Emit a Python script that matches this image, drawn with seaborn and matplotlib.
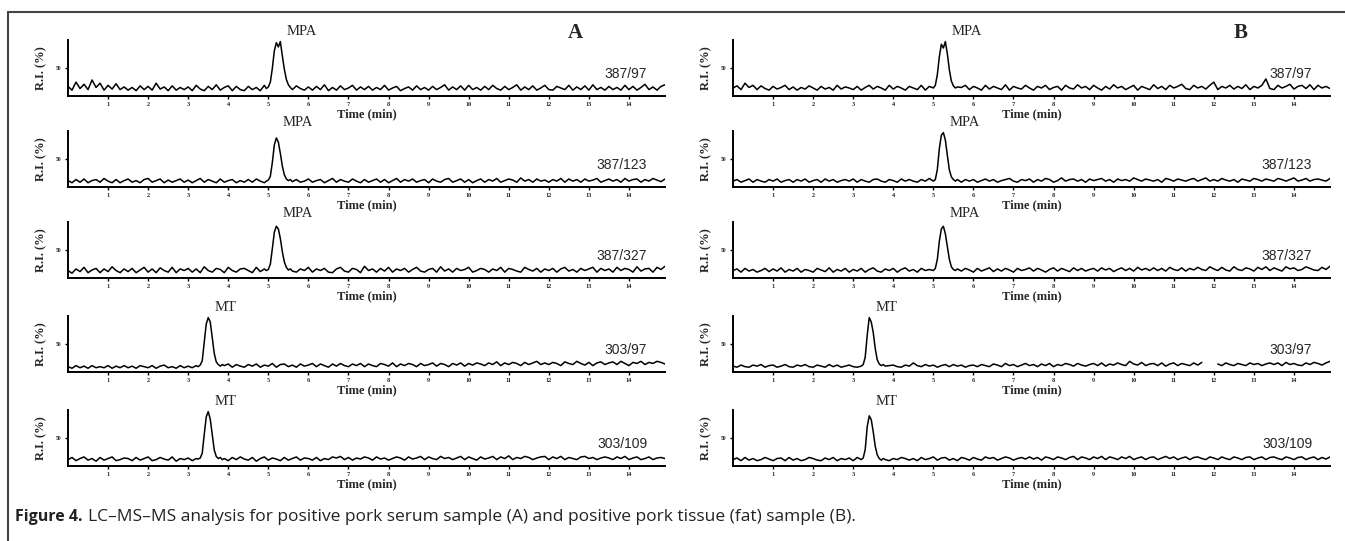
import numpy as np
import pandas as pd
import seaborn as sns
import matplotlib.pyplot as plt
from matplotlib.lines import Line2D

# baseline readings every 0.1 min (0.0 - 14.9 min), R.I. in %
STEP = 0.1
nan = np.nan
base_a1 = [16, 9, 24, 12, 20, 10, 28, 14, 22, 9, 18, 11, 21, 10, 15,
           9, 14, 8, 17, 10, 16, 9, 22, 11, 15, 8, 17, 9, 14, 10,
           15, 8, 18, 11, 8, 16, 10, 19, 9, 14, 17, 8, 16, 10, 8,
           16, 10, 14, 8, 18, 13, 9, 16, 8, 10, 15, 11, 17, 12, 9,
           15, 9, 16, 10, 19, 8, 14, 9, 17, 10, 13, 18, 9, 15, 10,
           16, 9, 14, 10, 18, 9, 13, 16, 8, 12, 15, 9, 17, 10, 14,
           9, 16, 10, 14, 19, 9, 15, 10, 17, 9, 18, 10, 14, 9, 16,
           10, 18, 12, 9, 16, 10, 14, 19, 9, 15, 10, 17, 9, 13, 18,
           10, 9, 16, 13, 10, 18, 9, 15, 10, 17, 9, 19, 10, 14, 9,
           16, 10, 14, 9, 18, 10, 16, 9, 14, 20, 10, 15, 9, 16, 19]
base_a2 = [10, 6, 12, 7, 13, 6, 10, 12, 7, 14, 9, 6, 12, 6, 10,
           13, 7, 10, 6, 12, 14, 7, 10, 13, 6, 11, 7, 10, 13, 7,
           11, 6, 10, 14, 7, 12, 9, 6, 13, 7, 10, 12, 6, 10, 7,
           12, 7, 13, 9, 6, 12, 7, 10, 13, 7, 6, 10, 12, 7, 9,
           13, 7, 10, 12, 6, 10, 14, 7, 12, 9, 7, 13, 9, 6, 12,
           7, 10, 13, 7, 12, 6, 10, 14, 7, 12, 9, 13, 7, 10, 12,
           6, 13, 9, 7, 12, 14, 7, 10, 13, 7, 12, 6, 10, 13, 7,
           12, 9, 14, 7, 10, 13, 11, 7, 15, 9, 12, 7, 13, 9, 11,
           7, 12, 9, 14, 7, 13, 9, 12, 7, 13, 9, 11, 14, 7, 10,
           13, 9, 12, 7, 14, 9, 12, 13, 7, 12, 9, 14, 11, 8, 13]
base_a3 = [12, 7, 15, 10, 18, 8, 13, 16, 8, 15, 10, 19, 12, 8, 15,
           10, 16, 8, 13, 18, 9, 15, 8, 17, 12, 9, 18, 8, 15, 12,
           16, 9, 15, 8, 19, 12, 9, 16, 14, 8, 18, 12, 9, 15, 16,
           12, 8, 18, 10, 15, 16, 11, 9, 15, 8, 12, 16, 9, 15, 12,
           18, 9, 15, 12, 16, 9, 8, 15, 18, 11, 9, 16, 14, 8, 20,
           12, 15, 9, 16, 11, 18, 9, 15, 12, 16, 9, 14, 18, 11, 9,
           14, 16, 9, 19, 11, 15, 9, 16, 12, 14, 18, 9, 12, 16, 14,
           9, 15, 12, 18, 9, 16, 14, 11, 9, 18, 14, 11, 16, 9, 15,
           12, 16, 9, 15, 18, 11, 14, 9, 16, 12, 15, 18, 9, 16, 12,
           15, 9, 18, 12, 16, 14, 9, 19, 11, 15, 16, 9, 18, 14, 20]
base_a4 = [8, 5, 10, 6, 9, 5, 10, 6, 8, 6, 10, 5, 9, 6, 10,
           6, 9, 5, 10, 8, 6, 10, 5, 9, 11, 6, 8, 5, 10, 6,
           9, 6, 10, 8, 12, 6, 10, 8, 6, 10, 13, 7, 12, 9, 7,
           12, 9, 13, 7, 11, 9, 14, 7, 12, 13, 8, 11, 7, 13, 9,
           11, 14, 8, 13, 10, 7, 13, 9, 14, 10, 8, 13, 10, 14, 8,
           13, 10, 8, 14, 12, 9, 15, 8, 13, 10, 14, 12, 8, 14, 10,
           12, 15, 9, 14, 12, 8, 14, 11, 15, 9, 14, 11, 15, 13, 10,
           15, 12, 17, 10, 15, 12, 16, 14, 10, 16, 12, 15, 18, 12, 15,
           12, 16, 14, 10, 17, 14, 12, 18, 14, 11, 16, 10, 15, 17, 12,
           15, 17, 12, 18, 14, 10, 16, 14, 18, 12, 16, 14, 18, 16, 13]
base_a5 = [10, 14, 8, 12, 15, 9, 12, 7, 14, 9, 12, 15, 8, 10, 13,
           12, 8, 14, 9, 12, 15, 8, 10, 14, 11, 9, 15, 7, 12, 10,
           13, 8, 12, 9, 15, 12, 7, 14, 9, 12, 8, 14, 10, 15, 11,
           9, 14, 7, 12, 15, 9, 13, 11, 8, 14, 9, 12, 15, 9, 13,
           12, 9, 14, 8, 12, 10, 15, 13, 16, 10, 14, 9, 13, 11, 15,
           13, 9, 15, 11, 13, 9, 12, 15, 13, 9, 15, 11, 13, 16, 10,
           15, 12, 10, 16, 12, 14, 10, 13, 16, 10, 15, 12, 9, 15, 11,
           13, 16, 10, 15, 12, 17, 10, 14, 12, 16, 14, 10, 13, 15, 16,
           10, 15, 12, 16, 10, 14, 12, 10, 15, 16, 12, 14, 10, 13, 15,
           13, 10, 15, 12, 16, 10, 13, 15, 10, 12, 15, 10, 13, 14, 12]
base_b1 = [13, 17, 10, 22, 14, 18, 10, 17, 12, 9, 16, 11, 14, 18, 10,
           15, 9, 14, 11, 17, 13, 9, 16, 11, 14, 9, 18, 11, 15, 13,
           10, 16, 9, 14, 18, 11, 16, 13, 9, 18, 11, 16, 13, 9, 16,
           13, 10, 18, 9, 16, 13, 11, 19, 13, 9, 16, 11, 14, 18, 10,
           16, 13, 9, 18, 11, 16, 13, 10, 19, 9, 16, 13, 11, 18, 13,
           9, 16, 13, 18, 10, 14, 16, 9, 18, 13, 11, 19, 13, 16, 10,
           18, 13, 9, 16, 11, 19, 13, 16, 10, 14, 18, 9, 16, 13, 10,
           19, 12, 16, 10, 18, 13, 16, 20, 12, 10, 18, 13, 16, 11, 18,
           24, 10, 16, 13, 18, 11, 16, 12, 19, 10, 16, 13, 18, 30, 12,
           10, 18, 13, 16, 20, 11, 16, 18, 12, 19, 10, 18, 13, 16, 12]
base_b2 = [9, 12, 7, 10, 13, 7, 12, 9, 7, 12, 9, 13, 7, 10, 12,
           7, 12, 9, 13, 7, 10, 12, 7, 13, 9, 12, 7, 10, 12, 9,
           13, 7, 12, 9, 7, 12, 13, 9, 7, 12, 10, 7, 13, 9, 12,
           9, 7, 12, 9, 14, 7, 12, 9, 7, 12, 10, 13, 7, 12, 9,
           12, 7, 10, 13, 9, 12, 7, 10, 12, 14, 9, 7, 12, 10, 13,
           7, 12, 9, 14, 12, 7, 10, 15, 9, 12, 13, 9, 12, 7, 13,
           10, 12, 14, 9, 12, 7, 13, 10, 12, 9, 15, 12, 9, 13, 11,
           9, 12, 7, 14, 12, 9, 13, 11, 9, 12, 14, 9, 12, 15, 9,
           12, 9, 14, 11, 9, 12, 7, 13, 11, 9, 14, 12, 9, 13, 11,
           9, 14, 12, 9, 12, 15, 9, 11, 14, 9, 12, 13, 11, 9, 14]
base_b3 = [12, 15, 9, 16, 11, 14, 9, 12, 16, 10, 15, 11, 17, 9, 14,
           11, 16, 9, 14, 12, 9, 16, 13, 10, 17, 9, 14, 11, 16, 9,
           14, 11, 16, 9, 14, 17, 11, 9, 15, 12, 16, 9, 14, 17, 11,
           14, 9, 16, 12, 14, 9, 17, 11, 14, 16, 9, 15, 11, 16, 13,
           9, 16, 11, 14, 17, 10, 15, 11, 16, 13, 9, 16, 12, 14, 17,
           11, 16, 13, 9, 14, 17, 11, 16, 13, 10, 17, 12, 16, 11, 14,
           16, 11, 17, 13, 16, 10, 14, 17, 12, 16, 11, 18, 13, 16, 12,
           17, 12, 16, 11, 18, 14, 12, 17, 11, 16, 13, 18, 14, 12, 19,
           15, 12, 18, 13, 11, 19, 14, 12, 17, 15, 11, 18, 14, 19, 12,
           17, 14, 11, 19, 15, 17, 12, 14, 19, 16, 13, 12, 18, 14, 20]
base_b4 = [9, 7, 11, 8, 7, 11, 9, 12, 7, 10, 11, 7, 9, 12, 8,
           7, 11, 9, 12, 8, 7, 11, 9, 7, 12, 8, 11, 7, 9, 11,
           8, 7, 11, 9, 12, 7, 9, 11, 7, 10, 11, 8, 7, 11, 9,
           15, 10, 8, 12, 9, 11, 7, 10, 12, 8, 12, 9, 11, 7, 10,
           11, 8, 12, 10, 8, 13, 11, 8, 14, 10, 12, 8, 11, 14, 10,
           12, 8, 13, 10, 14, 8, 12, 10, 14, 12, 9, 14, 11, 9, 12,
           14, 10, 15, 9, 13, 11, 15, 12, 10, 18, 13, 11, 16, 10, 13,
           14, 10, 15, 9, 13, 15, 10, 14, 12, 10, 15, 11, 16, nan, nan,
           nan, 13, 10, 15, 12, 10, 14, 12, 10, 15, 12, 14, 10, 13, 15,
           12, 15, 10, 16, 12, 14, 11, 10, 15, 12, 16, 14, 11, 15, 18]
base_b5 = [10, 13, 8, 14, 9, 12, 8, 10, 14, 11, 8, 12, 13, 8, 14,
           9, 12, 8, 10, 14, 12, 9, 8, 13, 10, 14, 8, 12, 10, 13,
           8, 14, 10, 12, 8, 10, 13, 14, 9, 8, 12, 10, 14, 12, 9,
           12, 8, 14, 10, 12, 15, 9, 13, 14, 9, 12, 8, 14, 12, 9,
           14, 11, 9, 15, 12, 14, 9, 12, 15, 13, 9, 12, 14, 11, 15,
           11, 14, 9, 15, 13, 10, 15, 13, 10, 14, 16, 10, 15, 13, 10,
           15, 12, 16, 10, 15, 13, 10, 15, 12, 16, 10, 13, 15, 10, 14,
           15, 10, 13, 16, 12, 15, 10, 13, 15, 10, 14, 15, 12, 10, 15,
           13, 10, 15, 12, 10, 15, 13, 10, 14, 15, 10, 13, 15, 10, 14,
           15, 12, 10, 15, 13, 10, 14, 15, 10, 13, 15, 10, 14, 11, 15]

# peak regions (finer sampling)
pk_t_mpa_a = [4.95, 5.0, 5.05, 5.1, 5.15, 5.2, 5.25, 5.3, 5.35, 5.4, 5.45, 5.5, 5.55, 5.6]
pk_a1 = [12, 15, 24, 50, 83, 98, 90, 100, 73, 48, 29, 19, 14, 10]
pk_a2 = [9, 11, 18, 44, 77, 90, 82, 61, 37, 21, 13, 10, 12, 8]
pk_a3 = [12, 14, 24, 53, 84, 95, 90, 72, 47, 28, 18, 13, 15, 11]
pk_t_mt_a = [3.25, 3.3, 3.35, 3.4, 3.45, 3.5, 3.55, 3.6, 3.65, 3.7, 3.75, 3.8, 3.85]
pk_a4 = [8, 11, 19, 53, 88, 100, 92, 62, 33, 17, 12, 9, 12]
pk_a5 = [11, 13, 22, 57, 90, 100, 86, 57, 28, 16, 12, 14, 10]
pk_t_mpa_b = [5.0, 5.05, 5.1, 5.15, 5.2, 5.25, 5.3, 5.35, 5.4, 5.45, 5.5, 5.55, 5.6]
pk_b1 = [13, 18, 38, 72, 95, 88, 100, 77, 47, 26, 17, 13, 15]
pk_b2 = [9, 12, 31, 70, 95, 100, 86, 57, 30, 17, 12, 9, 12]
pk_b3 = [12, 16, 33, 67, 90, 95, 81, 57, 33, 19, 14, 12, 15]
pk_t_mt_b = [3.2, 3.25, 3.3, 3.35, 3.4, 3.45, 3.5, 3.55, 3.6, 3.65, 3.7, 3.75, 3.8]
pk_b4 = [9, 12, 26, 67, 100, 92, 72, 42, 21, 13, 10, 12, 9]
pk_b5 = [10, 13, 29, 72, 92, 85, 62, 35, 19, 12, 9, 12, 10]

transitions = ["387/97", "387/123", "387/327", "303/97", "303/109"]
compounds = ["MPA", "MPA", "MPA", "MT", "MT"]
x_ticks = list(range(1, 15))

panels_a = [(base_a1, pk_t_mpa_a, pk_a1), (base_a2, pk_t_mpa_a, pk_a2),
            (base_a3, pk_t_mpa_a, pk_a3), (base_a4, pk_t_mt_a, pk_a4),
            (base_a5, pk_t_mt_a, pk_a5)]
panels_b = [(base_b1, pk_t_mpa_b, pk_b1), (base_b2, pk_t_mpa_b, pk_b2),
            (base_b3, pk_t_mpa_b, pk_b3), (base_b4, pk_t_mt_b, pk_b4),
            (base_b5, pk_t_mt_b, pk_b5)]


def build_trace(base, pk_t, pk_y):
    t = np.round(np.arange(len(base)) * STEP, 2)
    df = pd.DataFrame({"time": t, "ri": base})
    df = df[(df.time < pk_t[0]) | (df.time > pk_t[-1])]
    df = pd.concat([df, pd.DataFrame({"time": pk_t, "ri": pk_y})])
    df = df.sort_values("time").reset_index(drop=True)
    # split into segments where data is missing
    df["seg"] = df.ri.isna().cumsum()
    return df.dropna()


sns.set_theme(style="white")
plt.rcParams["font.family"] = ["Liberation Serif", "DejaVu Serif"]

fig = plt.figure(figsize=(13.45, 5.41), dpi=100)
W, H = 1345, 541
row_bottoms = [96, 187, 278, 372, 466]
ax_h = 56
ax_w = 597

for col, (left_px, panels, letter) in enumerate([(68, panels_a, "A"), (733, panels_b, "B")]):
    for r, (base, pk_t, pk_y) in enumerate(panels):
        ax = fig.add_axes([left_px / W, 1 - row_bottoms[r] / H, ax_w / W, ax_h / H])
        df = build_trace(base, pk_t, pk_y)
        sns.lineplot(data=df, x="time", y="ri", units="seg", estimator=None,
                     color="black", lw=1.1, ax=ax, sort=False)
        ax.set_xlim(0, 14.9)
        ax.set_ylim(-2, 103)
        ax.set_xticks(x_ticks)
        ax.set_xticklabels([str(v) for v in x_ticks], fontsize=4.5, fontweight="bold")
        ax.set_yticks([50])
        ax.set_yticklabels(["50"], fontsize=4, fontweight="bold")
        ax.tick_params(axis="both", length=2.5, width=1, pad=2, color="black", bottom=True, left=True)
        for s in ["top", "right"]:
            ax.spines[s].set_visible(False)
        for s in ["left", "bottom"]:
            ax.spines[s].set_color("black")
            ax.spines[s].set_linewidth(1.4)
        ax.set_xlabel("Time (min)", fontsize=9, fontweight="bold", labelpad=1)
        ax.set_ylabel("R.I. (%)", fontsize=9, fontweight="bold")
        ax.yaxis.set_label_coords(-0.035, 0.5)
        ax.patch.set_alpha(0)
        peak_x = pk_t[int(np.argmax(pk_y))]
        ax.text(peak_x + 0.15, 106, compounds[r], fontsize=10.5, va="bottom", ha="left")
        ax.text(0.97, 0.40, transitions[r], transform=ax.transAxes, ha="right", va="center",
                fontsize=10, family=["Liberation Sans Narrow", "Liberation Sans", "DejaVu Sans"])
        if r == 0:
            ax.text(0.85, 1.12, letter, transform=ax.transAxes, ha="center", va="center",
                    fontsize=15, fontweight="bold")

# figure frame (top and left rules)
fig.add_artist(Line2D([8 / W, 1], [1 - 12 / H, 1 - 12 / H], transform=fig.transFigure,
                      color="#444444", lw=1.5))
fig.add_artist(Line2D([8 / W, 8 / W], [0, 1 - 12 / H], transform=fig.transFigure,
                      color="#444444", lw=1.5))

cap_font = ["Open Sans", "DejaVu Sans"]
cap1 = fig.text(15 / W, 1 - 517 / H, "Figure 4.", fontsize=11.5, fontweight="bold",
                family=cap_font, color="#222222", va="center")
fig.canvas.draw()
plt.annotate("LC\u2013MS\u2013MS analysis for positive pork serum sample (A) and positive pork tissue (fat) sample (B).",
             xy=(1, 0), xycoords=cap1, xytext=(4, 0), textcoords="offset points",
             fontsize=12.5, family=cap_font, color="#222222", va="bottom")

fig.savefig("out.png", dpi=100)
